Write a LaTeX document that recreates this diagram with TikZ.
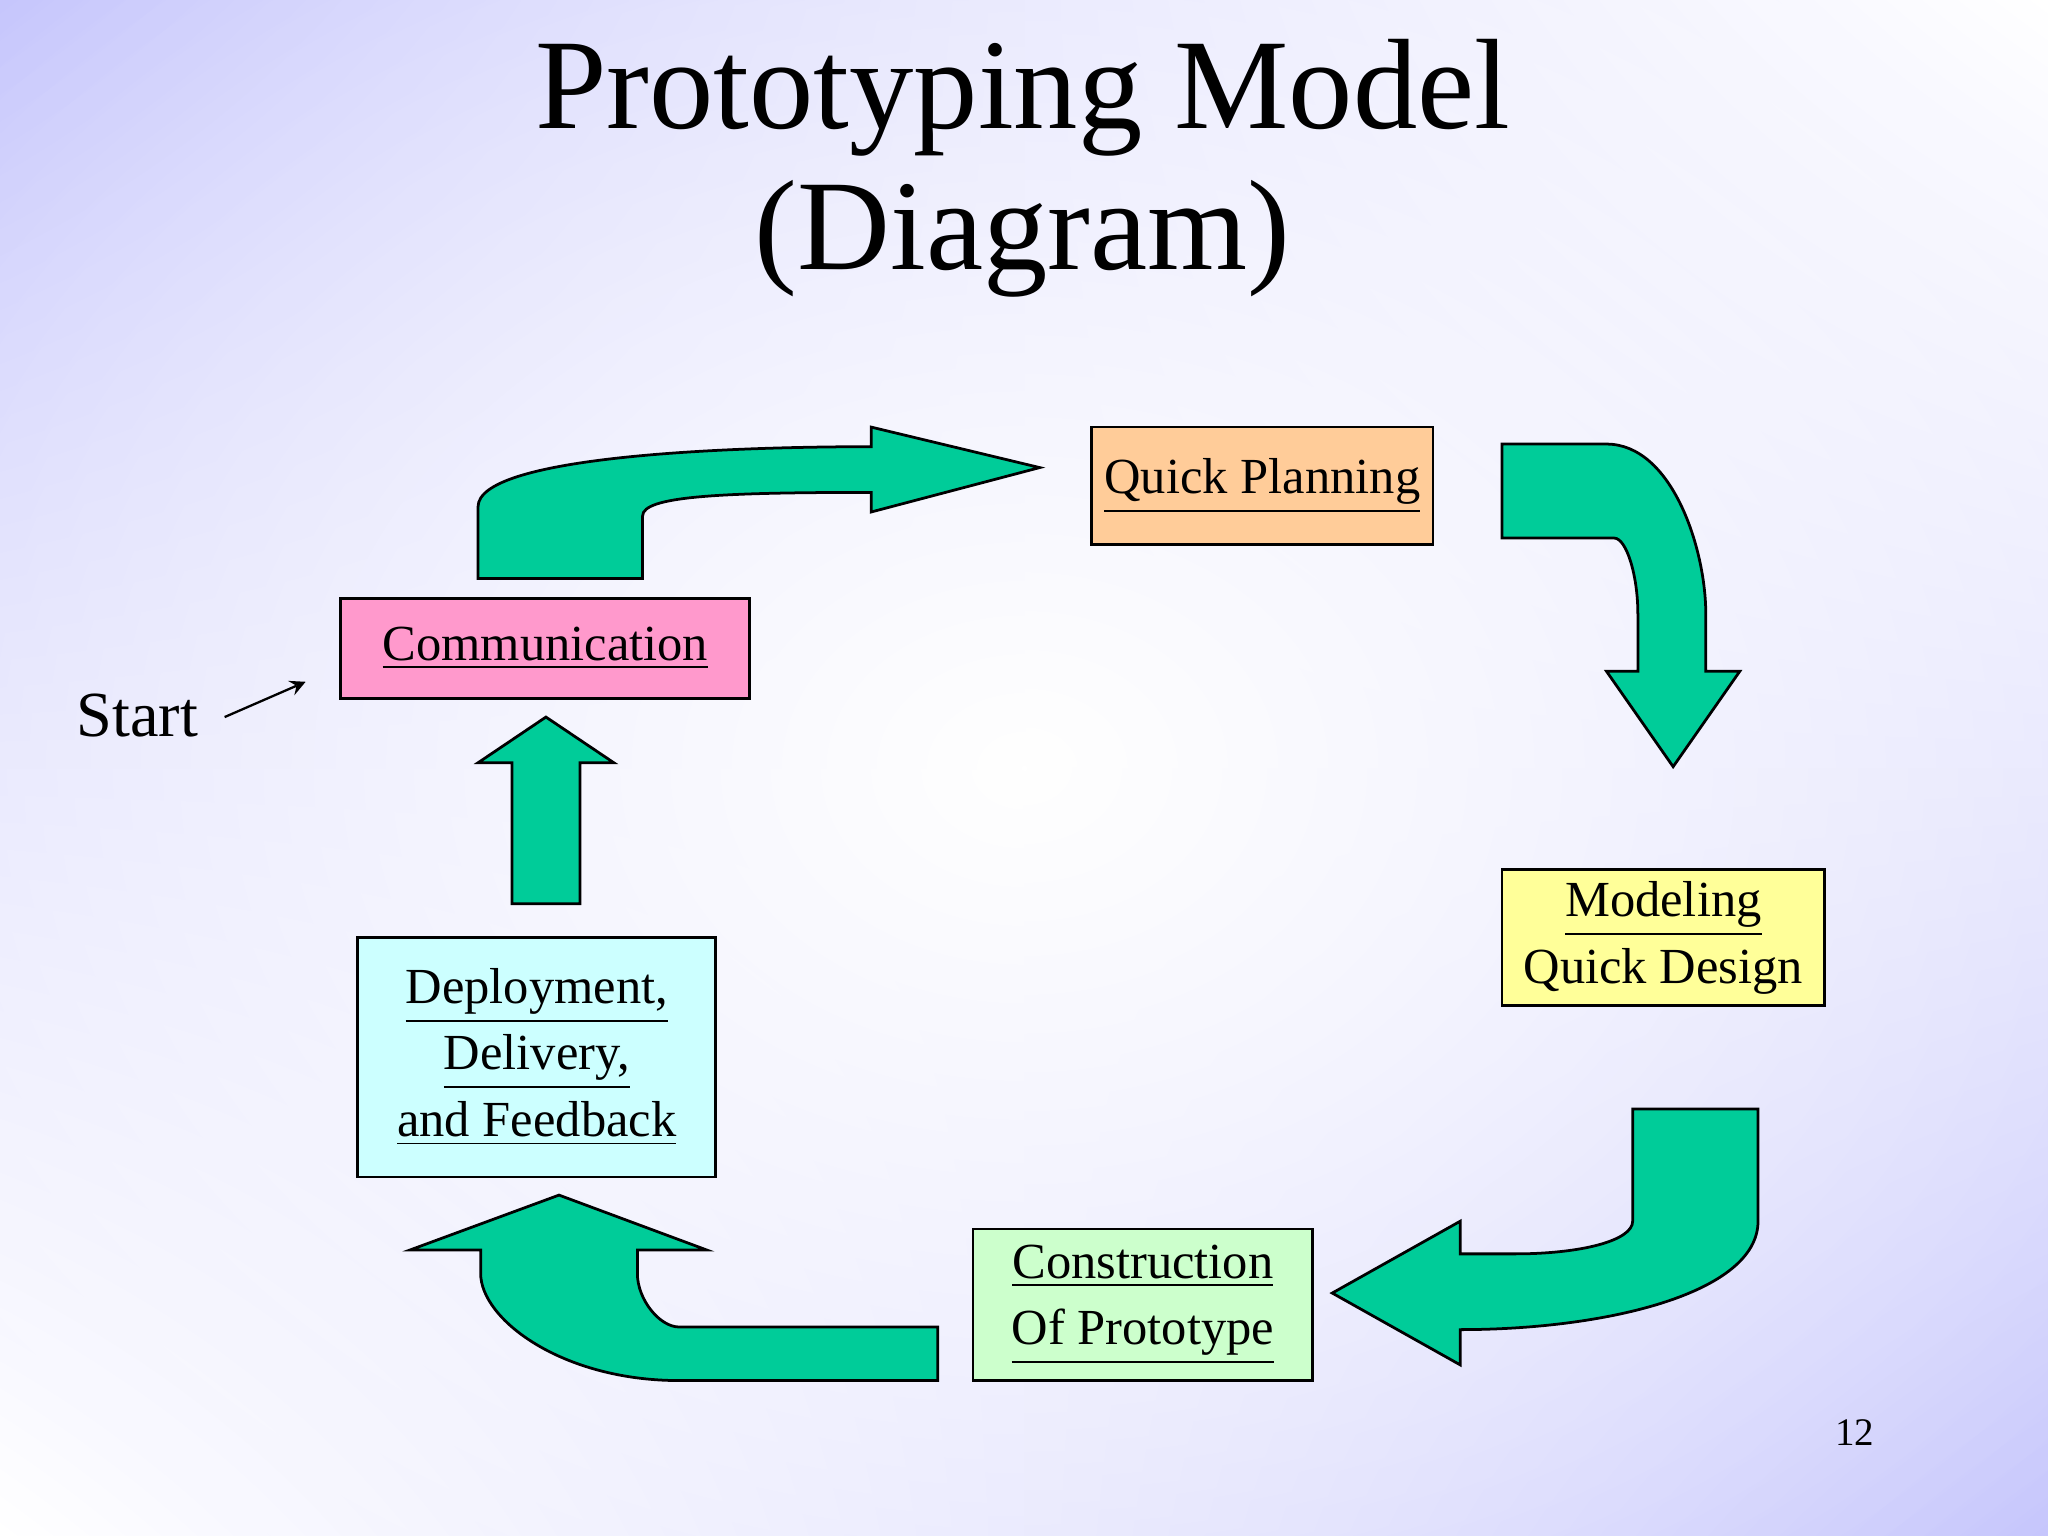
\documentclass[tikz,border=0pt]{standalone}
\usepackage{fontspec}
\setmainfont{Liberation Serif}
\usetikzlibrary{shadings,fadings}
\definecolor{lav}{RGB}{198,198,252}
\definecolor{grn}{RGB}{0,204,153}
\definecolor{cPlan}{RGB}{255,204,153}
\definecolor{cComm}{RGB}{255,153,204}
\definecolor{cMod}{RGB}{255,255,153}
\definecolor{cCon}{RGB}{204,255,204}
\definecolor{cDep}{RGB}{204,255,255}
\tikzfading[name=cfade, inner color=transparent!0, outer color=transparent!100]
\tikzset{
 box/.style={draw=black, line width=0.6pt, inner sep=0pt, align=center, font=\fontsize{11pt}{14.5pt}\selectfont},
 garrow/.style={fill=grn, draw=black, line width=0.6pt, line join=miter}
}
\begin{document}
\begin{tikzpicture}[x=0.01cm,y=-0.01cm]
\useasboundingbox (0,0) rectangle (1568,1176);
\shade[upper left=lav, upper right=white, lower left=white, lower right=lav] (0,0) rectangle (1568,1176);
\fill[white, path fading=cfade, fit fading=true] (-300,-250) rectangle (1868,1426);
\node[font=\fontsize{28pt}{34pt}\selectfont] (t1) at (783,75) {Prototyping Model};
\node[font=\fontsize{28pt}{34pt}\selectfont] (t2) at (783,183) {(Diagram)};
% arrows
\draw[garrow] (366,443) -- (366,388) .. controls (366,350) and (550,342) .. (667,342) -- (667,327) -- (796,358) -- (667,392) -- (667,377) .. controls (550,377) and (492,380) .. (492,395) -- (492,443) -- cycle;
\draw[garrow] (1150,340) -- (1230,340) .. controls (1280,340) and (1306,420) .. (1306,470) -- (1306,514) -- (1332,514) -- (1281,587) -- (1230,514) -- (1254,514) -- (1254,470) .. controls (1254,440) and (1245,412) .. (1236,412) -- (1150,412) -- cycle;
\draw[garrow] (1250,849) -- (1346,849) -- (1346,935) .. controls (1346,990) and (1230,1018) .. (1118,1018) -- (1118,1045) -- (1020,990) -- (1118,935) -- (1118,960) -- (1160,960) .. controls (1210,960) and (1250,950) .. (1250,935) -- cycle;
\draw[garrow] (718,1016) -- (718,1057) -- (520,1057) .. controls (430,1057) and (368,1010) .. (368,975) -- (368,957) -- (314,957) -- (428,915) -- (541,957) -- (488,957) -- (488,975) .. controls (488,995) and (505,1016) .. (520,1016) -- cycle;
\draw[garrow] (392,692) -- (444,692) -- (444,584) -- (470,584) -- (418,549) -- (366,584) -- (392,584) -- cycle;
% boxes
\node[box, fill=cPlan, minimum width=2.61cm, minimum height=0.90cm] (plan) at (966.5,372) {\underline{Quick Planning}};
\node[box, fill=cComm, minimum width=3.13cm, minimum height=0.77cm] (comm) at (417.5,496.5) {\underline{Communication}};
\node[box, fill=cMod, minimum width=2.47cm, minimum height=1.04cm] (mod) at (1273.5,718) {\underline{Modeling}\\Quick Design};
\node[box, fill=cCon, minimum width=2.60cm, minimum height=1.16cm] (con) at (875,999) {\underline{Construction}\\\underline{Of Prototype}};
\node[box, fill=cDep, minimum width=2.74cm, minimum height=1.83cm] (dep) at (411,809.5) {\underline{Deployment,}\\\underline{Delivery,}\\\underline{and Feedback}};
% start
\node[font=\fontsize{14pt}{16pt}\selectfont] (start) at (105,548) {Start};
\coordinate (st) at (234,522);
\draw[-stealth, line width=0.5pt] (172,549) -- (st);
\node[font=\fontsize{8.5pt}{10pt}\selectfont] (pg) at (1420,1097) {12};
\end{tikzpicture}
\end{document}
